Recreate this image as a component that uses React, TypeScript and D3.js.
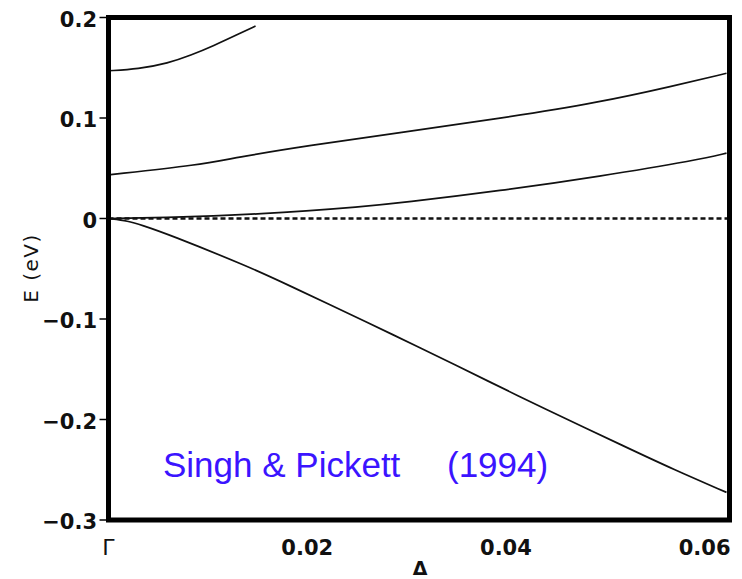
import React from 'react';
import * as d3 from 'd3';

// band energies E (eV) along Gamma -> Delta
const band1: [number, number][] = [
  [0, 0.147], [0.003, 0.1487], [0.006, 0.1545], [0.0083, 0.1625],
  [0.0105, 0.1715], [0.0133, 0.1845], [0.0148, 0.1915],
];
const band2: [number, number][] = [
  [0, 0.0435], [0.0093, 0.0535], [0.0127, 0.0605], [0.0201, 0.0726],
  [0.0294, 0.0855], [0.0394, 0.0995], [0.0494, 0.1155], [0.0567, 0.1315],
  [0.0622, 0.1445],
];
const band3: [number, number][] = [
  [0, 0], [0.005, 0.0006], [0.0153, 0.004], [0.0261, 0.0122],
  [0.0294, 0.0155], [0.0394, 0.0275], [0.0494, 0.0419], [0.0594, 0.0584],
  [0.0622, 0.065],
];
const band4: [number, number][] = [
  [0, 0], [0.002, -0.0025], [0.0033, -0.0065], [0.006, -0.0155],
  [0.0143, -0.0488], [0.0173, -0.0625], [0.027, -0.108], [0.0301, -0.1225],
  [0.0394, -0.1676], [0.0431, -0.1855], [0.0527, -0.2304], [0.0567, -0.2489],
  [0.0622, -0.2725],
];
const bands = [band1, band2, band3, band4];

const yTicks = [0.2, 0.1, 0, -0.1, -0.2, -0.3];
const xTicks = [0.02, 0.04, 0.06];

const W = 742;
const H = 579;
const left = 108.5, right = 729.5, top = 17.5, bottom = 520;

export default function App() {
  const x = d3.scaleLinear().domain([0, 0.0625]).range([left, right]);
  const y = d3.scaleLinear().domain([-0.3, 0.2]).range([bottom, top]);
  const line = d3.line<[number, number]>()
    .x(d => x(d[0]))
    .y(d => y(d[1]))
    .curve(d3.curveBasis);
  const fmt = (v: number) => (v === 0 ? '0' : d3.format('.1f')(v));
  const tickFont = 'DejaVu Sans, sans-serif';

  return (
    <svg width={W} height={H} style={{ position: 'absolute', left: 0, top: 0, background: '#fff' }}>
      {/* zero line */}
      <line x1={x(0)} x2={x(0.0625)} y1={y(0)} y2={y(0)}
        stroke="#111" strokeWidth={2.6} strokeDasharray="5,3" />

      {bands.map((b, i) => (
        <path key={i} d={line(b) ?? ''} fill="none" stroke="#111" strokeWidth={1.7} />
      ))}

      {/* frame */}
      <rect x={left} y={top} width={right - left} height={bottom - top}
        fill="none" stroke="#000" strokeWidth={5} />

      {yTicks.map(t => (
        <g key={t}>
          <line x1={left - 9} x2={left} y1={y(t)} y2={y(t)} stroke="#000" strokeWidth={1.5} />
          <text x={97} y={y(t) + 1.5} dy="0.36em" textAnchor="end" fontFamily={tickFont}
            fontWeight="bold" fontSize={21} fill="#111">{fmt(t)}</text>
        </g>
      ))}

      {xTicks.map(t => (
        <text key={t} x={x(t)} y={555} textAnchor="middle" fontFamily={tickFont}
          fontWeight="bold" fontSize={21} fill="#111">{d3.format('.2f')(t)}</text>
      ))}
      <text x={x(0)} y={555} textAnchor="middle" fontFamily={tickFont} fontSize={22} fill="#111">Γ</text>
      <text x={420} y={575} textAnchor="middle" fontFamily={tickFont} fontWeight="bold" fontSize={19} fill="#111">Δ</text>

      <text transform="translate(38,268) rotate(-90)" textAnchor="middle" fontFamily={tickFont}
        fontSize={20} letterSpacing={1.5} fill="#111">E (eV)</text>

      <text y={477} fontFamily="Liberation Sans, Arial, sans-serif" fontSize={35} fill="#3b14ff">
        <tspan x={163}>Singh &amp; Pickett</tspan>
        <tspan x={447}>(1994)</tspan>
      </text>
    </svg>
  );
}
